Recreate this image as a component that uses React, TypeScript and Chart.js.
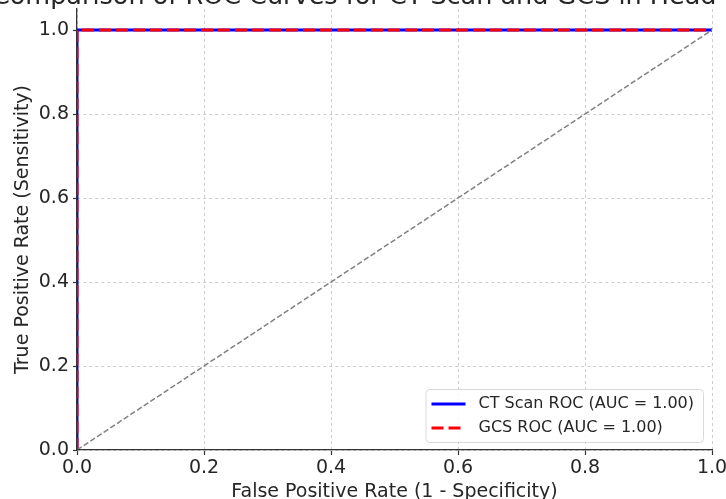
import React, { useEffect, useRef } from "react";
import { Chart, registerables } from "chart.js";

Chart.register(...registerables);

const titleText = "Comparison of ROC Curves for CT Scan and GCS in Head Injury";
const xAxisLabel = "False Positive Rate (1 - Specificity)";
const yAxisLabel = "True Positive Rate (Sensitivity)";

const ctFpr = [0, 0, 1];
const ctTpr = [0, 1, 1];
const gcsFpr = [0, 0, 1];
const gcsTpr = [0, 1, 1];
const chanceFpr = [0, 1];
const chanceTpr = [0, 1];

const ctLabel = "CT Scan ROC (AUC = 1.00)";
const gcsLabel = "GCS ROC (AUC = 1.00)";

const xTicks = [0, 0.2, 0.4, 0.6, 0.8, 1.0];
const yTicks = [0, 0.2, 0.4, 0.6, 0.8, 1.0];

const FONT = "'DejaVu Sans', sans-serif";
const TEXT = "#262626";

const toPoints = (xs: number[], ys: number[]) => xs.map((x, i) => ({ x, y: ys[i] }));

const overlayPlugin = {
  id: "overlay",
  afterDraw(chart: any) {
    const { ctx, chartArea } = chart;
    ctx.save();
    // Title (clipped at top like the reference)
    ctx.font = `25.5px ${FONT}`;
    ctx.fillStyle = TEXT;
    ctx.textAlign = "center";
    ctx.textBaseline = "alphabetic";
    ctx.fillText(titleText, (chartArea.left + chartArea.right) / 2, 4);

    // Legend
    const items = [
      { label: ctLabel, color: "#0000ff", dash: [] as number[] },
      { label: gcsLabel, color: "#ff0000", dash: [12, 5] },
    ];
    ctx.font = `16px ${FONT}`;
    const textW = Math.max(...items.map((it) => ctx.measureText(it.label).width));
    const right = chartArea.right - 9;
    const bottom = chartArea.bottom - 8;
    const w = 6 + 34 + 13 + textW + 9;
    const h = 53;
    const left = right - w;
    const top = bottom - h;
    ctx.beginPath();
    if (ctx.roundRect) ctx.roundRect(left + 0.5, top + 0.5, w, h, 4);
    else ctx.rect(left + 0.5, top + 0.5, w, h);
    ctx.fillStyle = "rgba(255,255,255,0.85)";
    ctx.fill();
    ctx.strokeStyle = "#d9d9d9";
    ctx.lineWidth = 1;
    ctx.stroke();
    items.forEach((it, i) => {
      const cy = top + 15 + i * 24;
      ctx.beginPath();
      ctx.setLineDash(it.dash);
      ctx.strokeStyle = it.color;
      ctx.lineWidth = 3;
      ctx.moveTo(left + 6, cy);
      ctx.lineTo(left + 40, cy);
      ctx.stroke();
      ctx.setLineDash([]);
      ctx.fillStyle = TEXT;
      ctx.textAlign = "left";
      ctx.textBaseline = "middle";
      ctx.fillText(it.label, left + 53, cy);
    });
    ctx.restore();
  },
};

export default function App() {
  const ref = useRef<HTMLCanvasElement | null>(null);
  useEffect(() => {
    if (!ref.current) return;
    const chart = new Chart(ref.current, {
      type: "scatter",
      data: {
        datasets: [
          {
            label: ctLabel,
            data: toPoints(ctFpr, ctTpr),
            showLine: true,
            borderColor: "#0000ff",
            borderWidth: 3,
            pointRadius: 0,
            tension: 0,
            clip: 0,
            order: 3,
          },
          {
            label: gcsLabel,
            data: toPoints(gcsFpr, gcsTpr),
            showLine: true,
            borderColor: "#ff0000",
            borderWidth: 3,
            borderDash: [12, 5],
            pointRadius: 0,
            tension: 0,
            clip: 0,
            order: 2,
          },
          {
            label: "chance",
            data: toPoints(chanceFpr, chanceTpr),
            showLine: true,
            borderColor: "#808080",
            borderWidth: 1.5,
            borderDash: [5.5, 2.5],
            pointRadius: 0,
            tension: 0,
            clip: 0,
            order: 1,
          },
        ],
      },
      options: {
        animation: false,
        responsive: true,
        maintainAspectRatio: false,
        layout: { padding: { top: 9, right: 14, left: 0, bottom: 0 } },
        plugins: {
          legend: { display: false },
          tooltip: { enabled: false },
          title: { display: false },
        },
        scales: {
          x: {
            type: "linear",
            min: 0,
            max: 1,
            afterBuildTicks: (s: any) => {
              s.ticks = xTicks.map((v) => ({ value: v }));
            },
            afterFit: (s: any) => {
              s.height = 49;
              s.paddingLeft = 0;
              s.paddingRight = 0;
            },
            ticks: {
              font: { family: FONT, size: 19 },
              color: TEXT,
              padding: 2,
              maxRotation: 0,
              callback: (v: any) => Number(v).toFixed(1),
            },
            grid: {
              color: "#cccccc",
              lineWidth: 1,
              drawTicks: true,
              tickLength: 5,
              tickColor: "#333333",
              tickWidth: 1.2,
              tickBorderDash: [],
            } as any,
            border: { color: "#333333", width: 1.3, dash: [3, 3], z: 1 },
            title: {
              display: true,
              text: xAxisLabel,
              font: { family: FONT, size: 19, lineHeight: 1 },
              color: TEXT,
              padding: { top: 0, bottom: -3 },
            },
          },
          y: {
            type: "linear",
            min: 0,
            max: 1.05,
            afterBuildTicks: (s: any) => {
              s.ticks = yTicks.map((v) => ({ value: v }));
            },
            afterFit: (s: any) => {
              s.width = 77;
              s.paddingTop = 0;
              s.paddingBottom = 0;
            },
            ticks: {
              font: { family: FONT, size: 19 },
              color: TEXT,
              padding: 4,
              callback: (v: any) => Number(v).toFixed(1),
            },
            grid: {
              color: "#cccccc",
              lineWidth: 1,
              drawTicks: true,
              tickLength: 4,
              tickColor: "#333333",
              tickWidth: 1.2,
              tickBorderDash: [],
            } as any,
            border: { color: "#333333", width: 1.3, dash: [3, 3], z: 1 },
            title: {
              display: true,
              text: yAxisLabel,
              font: { family: FONT, size: 19, lineHeight: 1 },
              color: TEXT,
              padding: { top: 14, bottom: 0 },
            },
          },
        },
      },
      plugins: [overlayPlugin],
    } as any);
    return () => chart.destroy();
  }, []);
  return (
    <div style={{ position: "fixed", top: 0, left: 0, width: 726, height: 499, background: "#fff" }}>
      <canvas ref={ref} />
    </div>
  );
}
